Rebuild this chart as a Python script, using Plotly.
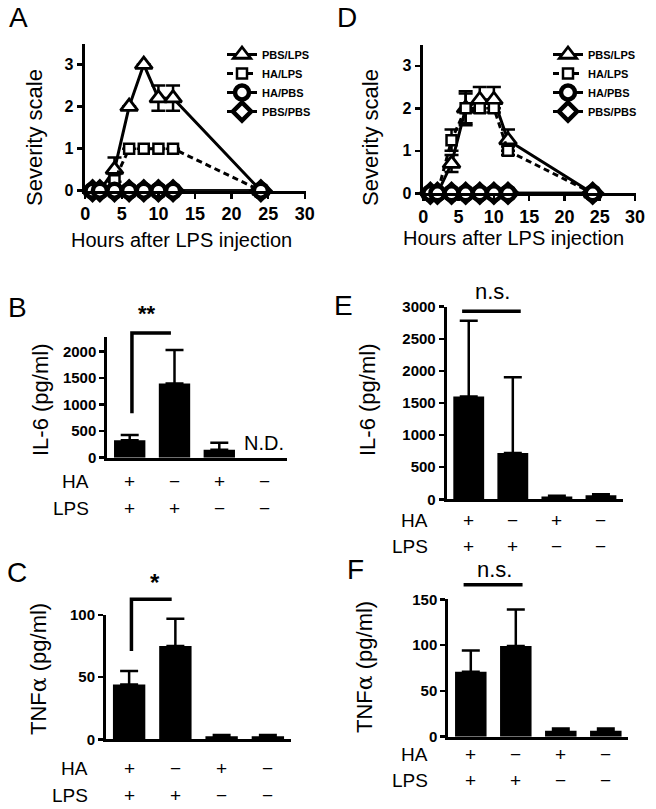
import plotly.graph_objects as go

W, H = 656, 809
FONT = "Liberation Sans, Arial, Helvetica, sans-serif"

# ---------------- Data: panels A and D (severity time course) ----------------
hours = [1, 2, 4, 6, 8, 10, 12, 24]
series_names = ["PBS/LPS", "HA/LPS", "HA/PBS", "PBS/PBS"]

A_pbs_lps = [0, 0, 0.5, 2.0, 3.0, 2.2, 2.2, 0]
A_pbs_lps_err = [0, 0, 0.29, 0, 0, 0.3, 0.3, 0]
A_ha_lps = [0, 0, 0.25, 1.0, 1.0, 1.0, 1.0, 0]
A_ha_lps_err = [0, 0, 0.15, 0, 0, 0, 0, 0]
A_ha_pbs = [0, 0, 0, 0, 0, 0, 0, 0]
A_pbs_pbs = [0, 0, 0, 0, 0, 0, 0, 0]

D_pbs_lps = [0, 0, 0.7, 2.0, 2.2, 2.2, 1.25, 0]
D_pbs_lps_err = [0, 0, 0.2, 0.4, 0.3, 0.3, 0.25, 0]
D_ha_lps = [0, 0, 1.25, 2.0, 2.0, 2.0, 1.0, 0]
D_ha_lps_err = [0, 0, 0.25, 0.35, 0, 0, 0.1, 0]
D_ha_pbs = [0, 0, 0, 0, 0, 0, 0, 0]
D_pbs_pbs = [0, 0, 0, 0, 0, 0, 0, 0]

severity_ticks = [0, 1, 2, 3]
hour_ticks = [0, 5, 10, 15, 20, 25, 30]

# ---------------- Data: bar panels ----------------
groups = [0, 1, 2, 3]
HA_signs = ["+", "\u2212", "+", "\u2212"]
LPS_signs = ["+", "+", "\u2212", "\u2212"]

B_il6 = [330, 1400, 150, None]        # last group: N.D.
B_il6_err = [100, 630, 130, None]
E_il6 = [1600, 720, 45, 65]
E_il6_err = [1180, 1180, 12, 12]
C_tnf = [44, 75, 2.5, 2.5]
C_tnf_err = [11, 22, 1, 1]
F_tnf = [71, 99, 6.5, 6.5]
F_tnf_err = [23, 40, 2.5, 2.5]

B_ticks = [0, 500, 1000, 1500, 2000]
E_ticks = [0, 500, 1000, 1500, 2000, 2500, 3000]
C_ticks = [0, 50, 100]
F_ticks = [0, 50, 100, 150]

# ---------------- Layout geometry (pixels) ----------------
def px_x(p):
    return p / W

def px_y(p):
    return 1 - p / H

panels = {
    "A": dict(ax="", box=(84.5, 305.5, 43.5, 190.7), xr=[-0.1, 30.1], yr=[0, 3.5]),
    "D": dict(ax="2", box=(422.6, 635.7, 44.5, 193.3), xr=[-0.1, 30.1], yr=[0, 3.5]),
    "B": dict(ax="3", box=(107.3, 286.5, 337.3, 457.7), xr=[-0.5, 3.5], yr=[0, 2270]),
    "E": dict(ax="4", box=(446.7, 623.0, 306.7, 499.3), xr=[-0.5, 3.5], yr=[0, 3000]),
    "C": dict(ax="5", box=(106.0, 291.0, 615.0, 739.3), xr=[-0.5, 3.5], yr=[0, 100]),
    "F": dict(ax="6", box=(448.3, 628.3, 599.3, 736.7), xr=[-0.5, 3.5], yr=[0, 150]),
}

fig = go.Figure()

marker_styles = {
    "PBS/LPS": dict(symbol="triangle-up", size=15, color="white", line=dict(color="black", width=2.8)),
    "HA/LPS": dict(symbol="square", size=10, color="white", line=dict(color="black", width=2.5)),
    "HA/PBS": dict(symbol="circle", size=14, color="white", line=dict(color="black", width=4.5)),
    "PBS/PBS": dict(symbol="diamond", size=14, color="white", line=dict(color="black", width=4.5)),
}
line_styles = {
    "PBS/LPS": dict(color="black", width=3),
    "HA/LPS": dict(color="black", width=3, dash="6px,4px"),
    "HA/PBS": dict(color="black", width=3),
    "PBS/PBS": dict(color="black", width=3),
}

def add_course(axn, legend, data):
    order = ["PBS/PBS", "PBS/LPS", "HA/LPS", "HA/PBS"]
    for name in order:
        yv, err = data[name]
        fig.add_trace(go.Scatter(
            x=hours, y=yv, mode="lines+markers", name="<b>%s</b>" % name,
            xaxis="x" + axn, yaxis="y" + axn, legend=legend,
            legendrank=series_names.index(name) + 1,
            line=line_styles[name], marker=marker_styles[name], cliponaxis=False,
            error_y=dict(type="data", array=err, visible=err is not None,
                         color="black", thickness=2.5, width=7),
        ))

add_course("", "legend", {
    "PBS/LPS": (A_pbs_lps, A_pbs_lps_err), "HA/LPS": (A_ha_lps, A_ha_lps_err),
    "HA/PBS": (A_ha_pbs, None), "PBS/PBS": (A_pbs_pbs, None)})
add_course("2", "legend2", {
    "PBS/LPS": (D_pbs_lps, D_pbs_lps_err), "HA/LPS": (D_ha_lps, D_ha_lps_err),
    "HA/PBS": (D_ha_pbs, None), "PBS/PBS": (D_pbs_pbs, None)})

def add_bars(axn, vals, errs):
    fig.add_trace(go.Bar(
        x=groups, y=vals, xaxis="x" + axn, yaxis="y" + axn, width=0.7,
        marker=dict(color="black", line=dict(width=0)), showlegend=False,
        error_y=dict(type="data", symmetric=False, array=errs,
                     arrayminus=[0 if e is not None else None for e in errs],
                     color="black", thickness=2.5, width=9),
    ))

add_bars("3", B_il6, B_il6_err)
add_bars("4", E_il6, E_il6_err)
add_bars("5", C_tnf, C_tnf_err)
add_bars("6", F_tnf, F_tnf_err)

layout = dict(
    width=W, height=H, margin=dict(l=0, r=0, t=0, b=0, autoexpand=False),
    paper_bgcolor="white", plot_bgcolor="white",
    font=dict(family=FONT, color="black"),
)

def bold(vals):
    return ["<b>%s</b>" % v for v in vals]

for key, p in panels.items():
    x0, x1, yt, yb = p["box"]
    n = p["ax"]
    is_course = key in ("A", "D")
    xa = dict(domain=[px_x(x0), px_x(x1)], range=p["xr"], anchor="y" + n,
              showline=True, linecolor="black", linewidth=3, showgrid=False, zeroline=False,
              fixedrange=True)
    ya = dict(domain=[px_y(yb), px_y(yt)], range=p["yr"], anchor="x" + n,
              showline=True, linecolor="black", linewidth=3, showgrid=False, zeroline=False,
              ticks="outside", ticklen=5, tickwidth=2.5, tickcolor="black",
              tickfont=dict(family=FONT, size=15), fixedrange=True)
    if is_course:
        xa.update(tickmode="array", tickvals=hour_ticks, ticktext=bold(hour_ticks),
                  ticks="outside", ticklen=5, tickwidth=2.5, tickcolor="black",
                  tickfont=dict(family=FONT, size=18))
        ya.update(tickmode="array", tickvals=severity_ticks, ticktext=bold(severity_ticks),
                  tickfont=dict(family=FONT, size=16))
    else:
        xa.update(showticklabels=False, ticks="")
        tv = {"B": B_ticks, "E": E_ticks, "C": C_ticks, "F": F_ticks}[key]
        ya.update(tickmode="array", tickvals=tv, ticktext=bold(tv))
    layout["xaxis" + n] = xa
    layout["yaxis" + n] = ya

fig.update_layout(**layout)

for lg, lx in (("legend", 222), ("legend2", 548)):
    fig.update_layout(**{lg: dict(
        x=px_x(lx), y=px_y(40), xanchor="left", yanchor="top",
        bgcolor="rgba(0,0,0,0)", itemwidth=30, tracegroupgap=0,
        font=dict(family=FONT, size=11, color="black"),
    )})

ann = []
def text(x, y, s, size, **kw):
    d = dict(x=px_x(x), y=px_y(y), xref="paper", yref="paper", text=s, showarrow=False,
             font=dict(family=FONT, size=size, color="black"), xanchor="center", yanchor="middle")
    d.update(kw)
    ann.append(d)

for letter, (lx, ly) in {"A": (18, 17), "D": (347, 18), "B": (17, 307),
                         "E": (343, 305), "C": (17, 572), "F": (355, 569)}.items():
    text(lx, ly, letter, 28)

text(35, 138, "Severity scale", 22, textangle=-90)
text(370, 137, "Severity scale", 22, textangle=-90)
text(181, 240, "Hours after LPS injection", 20)
text(513, 238, "Hours after LPS injection", 20)
text(40, 400, "IL-6 (pg/ml)", 22, textangle=-90)
text(367, 400, "IL-6 (pg/ml)", 22, textangle=-90)
alpha = "TNF<span style='font-family:DejaVu Serif'>\u03b1</span> (pg/ml)"
text(38, 669, alpha, 22, textangle=-90)
text(364, 667, alpha, 22, textangle=-90)

rows = {"3": (91, 481.7, 508.3), "4": (430, 520, 546.7), "5": (90, 768.3, 795), "6": (430, 754, 780)}
for n, (rx, yha, ylps) in rows.items():
    text(rx, yha, "HA", 19, xanchor="right")
    text(rx, ylps, "LPS", 19, xanchor="right")
    for g, s1, s2 in zip(groups, HA_signs, LPS_signs):
        ann.append(dict(x=g, y=px_y(yha), xref="x" + n, yref="paper", text=s1, showarrow=False,
                        font=dict(family=FONT, size=19, color="black"), yanchor="middle"))
        ann.append(dict(x=g, y=px_y(ylps), xref="x" + n, yref="paper", text=s2, showarrow=False,
                        font=dict(family=FONT, size=19, color="black"), yanchor="middle"))

ann.append(dict(x=groups[3], y=270, xref="x3", yref="y3", text="N.D.", showarrow=False,
                font=dict(family=FONT, size=20, color="black"), yanchor="middle"))

key_of = {p["ax"]: p for p in panels.values()}

def fx(p, v):
    return (v - p["xr"][0]) / (p["xr"][1] - p["xr"][0])

def fy(p, v):
    return (v - p["yr"][0]) / (p["yr"][1] - p["yr"][0])

sig_text = [
    ("3", 0.38, 2725, "<b>**</b>", 22),
    ("5", 0.56, 126, "<b>*</b>", 24),
    ("4", 0.54, 3234, "n.s.", 22),
    ("6", 0.53, 182, "n.s.", 22),
]
for n, sx, sy, s, sz in sig_text:
    p = key_of[n]
    ann.append(dict(x=fx(p, sx), y=fy(p, sy), xref="x%s domain" % n, yref="y%s domain" % n,
                    text=s, showarrow=False, font=dict(family=FONT, size=sz, color="black"),
                    xanchor="center", yanchor="middle"))
fig.update_layout(annotations=ann)

brackets = [
    ("3", [(0.05, 840), (0.05, 2350), (0.92, 2350)]),
    ("5", [(0.05, 71), (0.05, 112.6), (0.92, 112.6)]),
    ("4", [(-0.15, 2930), (1.18, 2930)]),
    ("6", [(-0.16, 166), (1.15, 166)]),
]
shapes = []
for n, pts in brackets:
    p = key_of[n]
    path = "M" + " L".join("%f,%f" % (fx(p, a), fy(p, b)) for a, b in pts)
    shapes.append(dict(type="path", path=path, xref="x%s domain" % n, yref="y%s domain" % n,
                       line=dict(color="black", width=3.5)))
fig.update_layout(shapes=shapes)

fig.write_html(
    "out.html",
    config={"displayModeBar": False, "staticPlot": True},
    post_script="document.body.style.margin='0';document.body.style.overflow='hidden';",
)
